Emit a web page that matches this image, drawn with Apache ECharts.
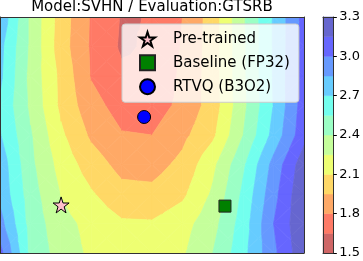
<!DOCTYPE html>
<html><head><meta charset="utf-8">
<script src="https://cdn.jsdelivr.net/npm/echarts@6/dist/echarts.min.js"></script>
<style>html,body{margin:0;padding:0;background:#fff}#c{width:363px;height:261px}</style>
</head><body><div id="c"></div>
<script>
const titleText = 'Model:SVHN / Evaluation:GTSRB';
// grid node coordinates of the loss surface
const gridXs = [0, 1, 2, 3, 4, 5, 6, 7, 8, 9, 10];
const gridYs = [0, 1, 2, 3, 4, 5, 6, 7, 8];
// loss values per row of nodes (top row y=8 first)
const lossY8 = [2.82, 2.37, 2.03, 1.785, 1.64, 1.655, 1.80, 2.02, 2.38, 2.715, 3.05];
const lossY7 = [2.745, 2.37, 2.02, 1.78, 1.63, 1.67, 1.81, 2.02, 2.37, 2.715, 3.05];
const lossY6 = [2.73, 2.354, 2.062, 1.79, 1.68, 1.68, 1.828, 2.02, 2.37, 2.715, 3.06];
const lossY5 = [2.68, 2.37, 2.068, 1.853, 1.74, 1.73, 1.838, 2.017, 2.36, 2.706, 3.075];
const lossY4 = [2.71, 2.415, 2.128, 1.924, 1.81, 1.80, 1.911, 2.07, 2.40, 2.749, 3.10];
const lossY3 = [2.79, 2.436, 2.193, 2.026, 1.90, 1.89, 1.99, 2.213, 2.524, 2.90, 3.24];
const lossY2 = [2.81, 2.469, 2.244, 2.116, 2.00, 1.99, 2.07, 2.273, 2.58, 2.95, 3.28];
const lossY1 = [2.906, 2.49, 2.305, 2.20, 2.12, 2.115, 2.19, 2.346, 2.62, 3.0, 3.28];
const lossY0 = [3.05, 2.51, 2.334, 2.22, 2.17, 2.17, 2.23, 2.40, 2.65, 2.965, 3.26];
const lossRows = [lossY8, lossY7, lossY6, lossY5, lossY4, lossY3, lossY2, lossY1, lossY0];
// contour levels and colorbar ticks
const levels = [1.5, 1.65, 1.8, 1.95, 2.1, 2.25, 2.4, 2.55, 2.7, 2.85, 3.0, 3.15, 3.3];
const cbTicks = ['1.5', '1.8', '2.1', '2.4', '2.7', '3.0', '3.3'];
// marker positions
const pretrained = [2.01, 1.63];
const baseline = [7.40, 1.59];
const rtvq = [4.74, 4.61];
const seriesNames = ['Pre-trained', 'Baseline (FP32)', 'RTVQ (B3O2)'];

const FONT = 'DejaVu Sans';
const ALPHA = 0.6;
function jet(x) {
  const seg = pts => { for (let k = 0; k < pts.length - 1; k++) { const [x0, y0] = pts[k], [x1, y1] = pts[k + 1]; if (x >= x0 && x <= x1) return y0 + (y1 - y0) * (x - x0) / (x1 - x0); } return pts[pts.length - 1][1]; };
  return [
    seg([[0, 0], [0.35, 0], [0.66, 1], [0.89, 1], [1, 0.5]]),
    seg([[0, 0], [0.125, 0], [0.375, 1], [0.64, 1], [0.91, 0], [1, 0]]),
    seg([[0, 0.5], [0.11, 1], [0.34, 1], [0.65, 0], [1, 0]])
  ];
}
const nBands = levels.length - 1;
const bandColors = [];
for (let k = 0; k < nBands; k++) {
  const c = jet(1 - (k + 0.5) / nBands);
  const m = v => Math.round(255 * (1 - ALPHA) + 255 * v * ALPHA);
  bandColors.push(`rgb(${m(c[0])},${m(c[1])},${m(c[2])})`);
}
const zAt = (i, j) => lossRows[gridYs.length - 1 - j][i];
function clipHalf(pts, f) {
  const out = [];
  for (let k = 0; k < pts.length; k++) {
    const a = pts[k], b = pts[(k + 1) % pts.length];
    const fa = f(a), fb = f(b);
    if (fa >= 0) out.push(a);
    if ((fa >= 0) !== (fb >= 0)) {
      const t = fa / (fa - fb);
      out.push([a[0] + (b[0] - a[0]) * t, a[1] + (b[1] - a[1]) * t, a[2] + (b[2] - a[2]) * t]);
    }
  }
  return out;
}
const cells = [];
for (let i = 0; i < gridXs.length - 1; i++) for (let j = 0; j < gridYs.length - 1; j++) cells.push([i, j]);

function renderCell(params, api) {
  const i = api.value(0), j = api.value(1);
  const x0 = gridXs[i], x1 = gridXs[i + 1], y0 = gridYs[j], y1 = gridYs[j + 1];
  const a = [x0, y0, zAt(i, j)], b = [x1, y0, zAt(i + 1, j)], c = [x1, y1, zAt(i + 1, j + 1)], d = [x0, y1, zAt(i, j + 1)];
  const m = [(x0 + x1) / 2, (y0 + y1) / 2, (a[2] + b[2] + c[2] + d[2]) / 4];
  const tris = [[a, b, m], [b, c, m], [c, d, m], [d, a, m]];
  const children = [];
  tris.forEach(tri => {
    for (let k = 0; k < nBands; k++) {
      const lo = k === 0 ? -Infinity : levels[k];
      const hi = k === nBands - 1 ? Infinity : levels[k + 1];
      let poly = clipHalf(tri, p => p[2] - lo);
      if (poly.length < 3) continue;
      poly = clipHalf(poly, p => hi - p[2]);
      if (poly.length < 3) continue;
      children.push({
        type: 'polygon',
        shape: { points: poly.map(p => api.coord([p[0], p[1]])) },
        style: { fill: bandColors[k], stroke: bandColors[k], lineWidth: 0.7 }
      });
    }
  });
  return { type: 'group', children };
}
const cbData = [];
for (let k = 0; k < nBands; k++) cbData.push([k, levels[k], levels[k + 1]]);
function renderBand(params, api) {
  const k = api.value(0);
  const p1 = api.coord([0, api.value(2)]);
  const p2 = api.coord([1, api.value(1)]);
  return { type: 'rect', shape: { x: p1[0], y: p1[1], width: p2[0] - p1[0], height: p2[1] - p1[1] },
    style: { fill: bandColors[k], stroke: bandColors[k], lineWidth: 0.5 } };
}
const starPath = 'path://M50,0 L61.2,34.5 L97.6,34.5 L68.2,55.9 L79.4,90.5 L50,69.1 L20.6,90.5 L31.8,55.9 L2.4,34.5 L38.8,34.5 Z';
const spine = { show: true, onZero: false, lineStyle: { color: '#333', width: 1 } };
const hiddenBits = { axisTick: { show: false }, axisLabel: { show: false }, splitLine: { show: false } };

const chart = echarts.init(document.getElementById('c'), null, { renderer: 'canvas' });
chart.setOption({
  animation: false,
  backgroundColor: '#ffffff',
  graphic: [{
    type: 'text', x: 152, y: 0, z: 100,
    style: { text: titleText, font: '15px "' + FONT + '"', fill: '#000', align: 'center', verticalAlign: 'top' }
  }],
  grid: [
    { left: 0, top: 17, width: 304, height: 236 },
    { left: 323, top: 17, width: 12, height: 236 }
  ],
  xAxis: [
    Object.assign({ gridIndex: 0, type: 'value', min: 0, max: 10, position: 'bottom', axisLine: spine, z: 10 }, hiddenBits),
    Object.assign({ gridIndex: 0, type: 'value', min: 0, max: 10, position: 'top', axisLine: spine, z: 10 }, hiddenBits),
    Object.assign({ gridIndex: 1, type: 'value', min: 0, max: 1, position: 'bottom', axisLine: spine, z: 10 }, hiddenBits),
    Object.assign({ gridIndex: 1, type: 'value', min: 0, max: 1, position: 'top', axisLine: spine, z: 10 }, hiddenBits)
  ],
  yAxis: [
    Object.assign({ gridIndex: 0, type: 'value', min: 0, max: 8, position: 'left', axisLine: spine, z: 10 }, hiddenBits),
    Object.assign({ gridIndex: 0, type: 'value', min: 0, max: 8, position: 'right', axisLine: spine, z: 10 }, hiddenBits),
    Object.assign({ gridIndex: 1, type: 'value', min: 1.5, max: 3.3, interval: 0.3, position: 'left', axisLine: spine, z: 10 }, hiddenBits),
    {
      gridIndex: 1, type: 'value', min: 1.5, max: 3.3, interval: 0.3, position: 'right', z: 10,
      axisLine: spine, splitLine: { show: false },
      axisTick: { show: true, inside: false, length: 3.5, lineStyle: { color: '#000', width: 1 } },
      axisLabel: { show: true, margin: 6, color: '#000', fontFamily: FONT, fontSize: 13,
        formatter: v => { const s = v.toFixed(1); return cbTicks.indexOf(s) >= 0 ? s : ''; } }
    }
  ],
  legend: {
    orient: 'vertical', left: 122, top: 24, selectedMode: false,
    itemWidth: 15, itemHeight: 15, itemGap: 7,
    padding: [7, 9, 7, 17],
    backgroundColor: 'rgba(255,255,255,0.8)', borderColor: '#cccccc', borderWidth: 1, borderRadius: 3,
    textStyle: { fontFamily: FONT, fontSize: 15, color: '#000', lineHeight: 15, padding: [0, 0, 0, 13] },
    data: seriesNames
  },
  series: [
    { type: 'custom', xAxisIndex: 0, yAxisIndex: 0, data: cells, renderItem: renderCell, clip: true, silent: true, z: 1 },
    { type: 'custom', xAxisIndex: 2, yAxisIndex: 2, data: cbData, renderItem: renderBand, silent: true, z: 1 },
    { name: seriesNames[0], type: 'scatter', xAxisIndex: 0, yAxisIndex: 0, data: [pretrained], symbol: starPath, symbolSize: 16,
      itemStyle: { color: '#ffc0cb', borderColor: '#000', borderWidth: 1, opacity: 1 }, z: 5 },
    { name: seriesNames[1], type: 'scatter', xAxisIndex: 0, yAxisIndex: 0, data: [baseline], symbol: 'rect', symbolSize: 12,
      itemStyle: { color: '#008000', borderColor: '#222', borderWidth: 1, opacity: 1 }, z: 5 },
    { name: seriesNames[2], type: 'scatter', xAxisIndex: 0, yAxisIndex: 0, data: [rtvq], symbol: 'circle', symbolSize: 13,
      itemStyle: { color: '#0000ff', borderColor: '#000', borderWidth: 1, opacity: 1 }, z: 5 }
  ]
});
</script></body></html>
